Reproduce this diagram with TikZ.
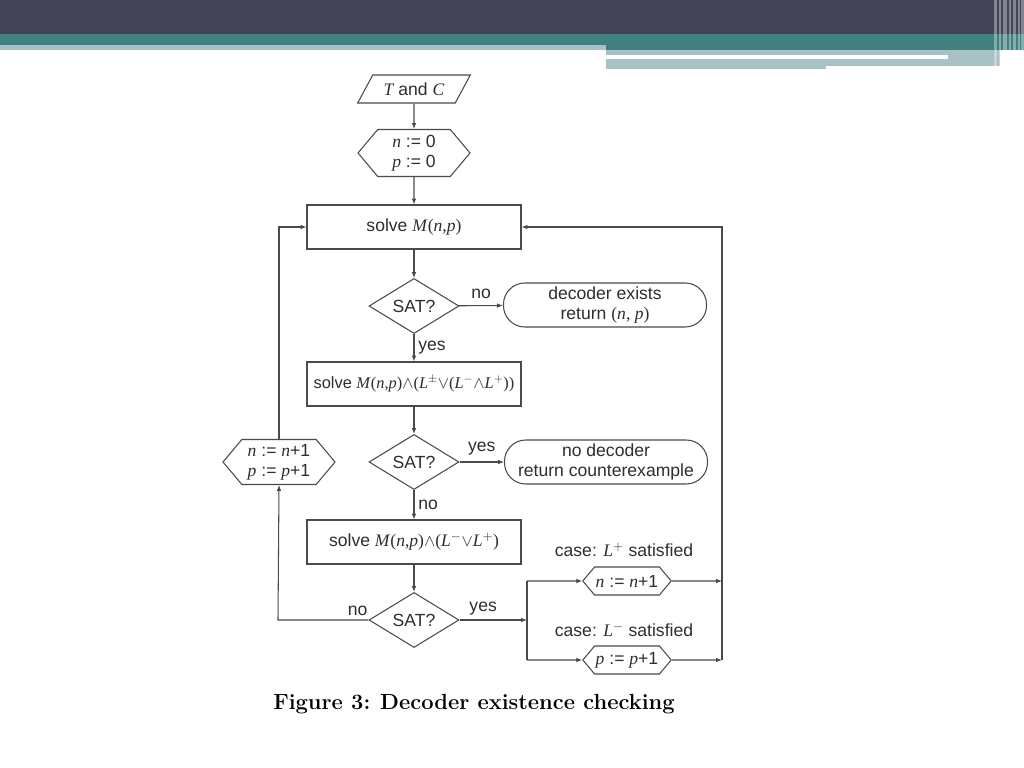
\documentclass[tikz,border=0pt]{standalone}
\usepackage{fontspec}
\setsansfont{Liberation Sans}
\newfontfamily\tms{Liberation Serif}
\usepackage{tikz}
\usetikzlibrary{arrows.meta,shapes.geometric,shapes.symbols}

\definecolor{bannerdark}{HTML}{434356}
\definecolor{bannerteal}{HTML}{41807F}
\definecolor{bannerlight}{HTML}{A8C1C5}
\definecolor{linegray}{HTML}{4A4A4A}
\definecolor{txtgray}{HTML}{2E2E2E}

\newcommand{\vi}[1]{{\tms\itshape #1}}
\newcommand{\Mnp}{{\tms\textit{M}(\textit{n},\textit{p})}}

\begin{document}
\begin{tikzpicture}[x=0.03cm,y=-0.03cm,
		font=\sffamily\fontsize{15}{17}\selectfont, text=txtgray,
		box/.style={rectangle,draw=linegray,line width=0.9pt,minimum width=6.42cm,minimum height=1.32cm},
		cond/.style={diamond,draw=linegray,line width=0.9pt,minimum width=2.7cm,minimum height=1.29cm,inner sep=0pt},
		term/.style={rectangle,rounded corners=0.64cm,draw=linegray,line width=0.9pt,minimum width=6.09cm,minimum height=1.32cm,inner sep=1pt,align=center},
		hexa/.style={signal,signal to=east and west,signal pointer angle=100,draw=linegray,line width=0.9pt,inner sep=1pt,align=center},
		io/.style={trapezium,trapezium left angle=53,trapezium right angle=127,trapezium stretches=true,draw=linegray,line width=0.9pt,minimum width=3.39cm,minimum height=0.84cm,inner sep=1pt},
		conn/.style={draw=linegray,line width=0.9pt},
		arr/.style={conn,-{Latex[length=5pt,width=4pt]}}]
		\useasboundingbox (0,0) rectangle (1024,768);
		\fill[white] (0,0) rectangle (1024,768);

		% slide banner
		\fill[bannerdark] (0,0) rectangle (1024,34);
		\fill[bannerteal] (0,34) rectangle (1024,45);
		\fill[bannerteal] (606,45) rectangle (1024,50);
		\fill[bannerlight] (0,45) rectangle (606,50);
		\fill[bannerlight] (606,50) rectangle (1000,66);
		\fill[bannerlight] (606,66) rectangle (826,69);
		\fill[white] (606,55) rectangle (948,59);
		\foreach \x/\w in {994/3,999/2,1003/4,1009/2,1013/3,1018/2,1021/3}
			\fill[white,opacity=0.35] (\x,0) rectangle ++(\w,69);

		% flowchart
		\node[io] (tc) at (414,89) {\vi{T} and \vi{C}};
		\node[hexa,minimum width=3.36cm,minimum height=1.41cm] (init) at (414,153) {\vi{n} := 0\\\vi{p} := 0};
		\node[box] (solve1) at (414,227) {solve \Mnp};
		\node[cond] (sat1) at (414,306) {SAT?};
		\node[term] (found) at (605,305) {decoder exists\\return {\tms(\textit{n}, \textit{p})}};
		\node[box,inner xsep=2pt,font=\sffamily\fontsize{14}{17}\selectfont] (solve2) at (414,384) {solve \Mnp$\wedge${\tms(\textit{L}}$^{\pm}$$\vee${\tms(\textit{L}}$^{-}$$\wedge${\tms\textit{L}}$^{+}${\tms))}};
		\node[cond] (sat2) at (414,462) {SAT?};
		\node[term] (nodec) at (606,462) {no decoder\\return counterexample};
		\node[hexa,minimum width=3.36cm,minimum height=1.35cm] (incnp) at (279,462) {\vi{n} := \vi{n}+1\\\vi{p} := \vi{p}+1};
		\node[box] (solve3) at (414,542) {solve \Mnp$\wedge${\tms(\textit{L}}$^{-}$$\vee${\tms\textit{L}}$^{+}${\tms)}};
		\node[cond] (sat3) at (414,620) {SAT?};
		\node (caseN) at (624,550) {case: \vi{L}$^{+}$ satisfied};
		\node[hexa,minimum width=2.64cm,minimum height=0.84cm] (incn) at (627,581) {\vi{n} := \vi{n}+1};
		\node (caseP) at (624,630) {case: \vi{L}$^{-}$ satisfied};
		\node[hexa,minimum width=2.64cm,minimum height=0.84cm] (incp) at (627,660) {\vi{p} := \vi{p}+1};
		\coordinate (split) at (527,620);
		\coordinate (splitN) at (527,581);
		\coordinate (splitS) at (527,660);
		\coordinate (joinN) at (722,581);
		\coordinate (joinS) at (722,660);
		\coordinate (joinT) at (722,227);

		\draw[arr] (tc)--(init);
		\draw[arr] (init)--(solve1);
		\draw[arr] (solve1)--(sat1);
		\draw[arr] (sat1)--node[above,yshift=2pt]{no}(found);
		\draw[arr] (sat1)--node[right]{yes}(solve2);
		\draw[arr] (solve2)--(sat2);
		\draw[arr] (sat2)--node[above,yshift=2pt]{yes}(nodec);
		\draw[arr] (sat2)--node[right]{no}(solve3);
		\draw[arr] (solve3)--(sat3);
		\draw[arr] (sat3.west)--node[above,pos=0.12]{no}(278,620)--(incnp.south);
		\draw[arr] (incnp.north)|-(solve1.west);
		\draw[arr] (sat3.east)--node[above,pos=0.35]{yes}(split);
		\draw[conn] (splitN)--(splitS);
		\draw[arr] (splitN)--(incn);
		\draw[arr] (splitS)--(incp);
		\draw[arr] (incn)--(joinN);
		\draw[arr] (incp)--(joinS);
		\draw[arr] (joinS)--(joinT)--(solve1.east);

		\node[font=\rmfamily\bfseries\fontsize{18.7}{22}\selectfont,text=black] (caption) at (474,704) {Figure 3:\hspace{0.45em}Decoder existence checking};
	\end{tikzpicture}
\end{document}
